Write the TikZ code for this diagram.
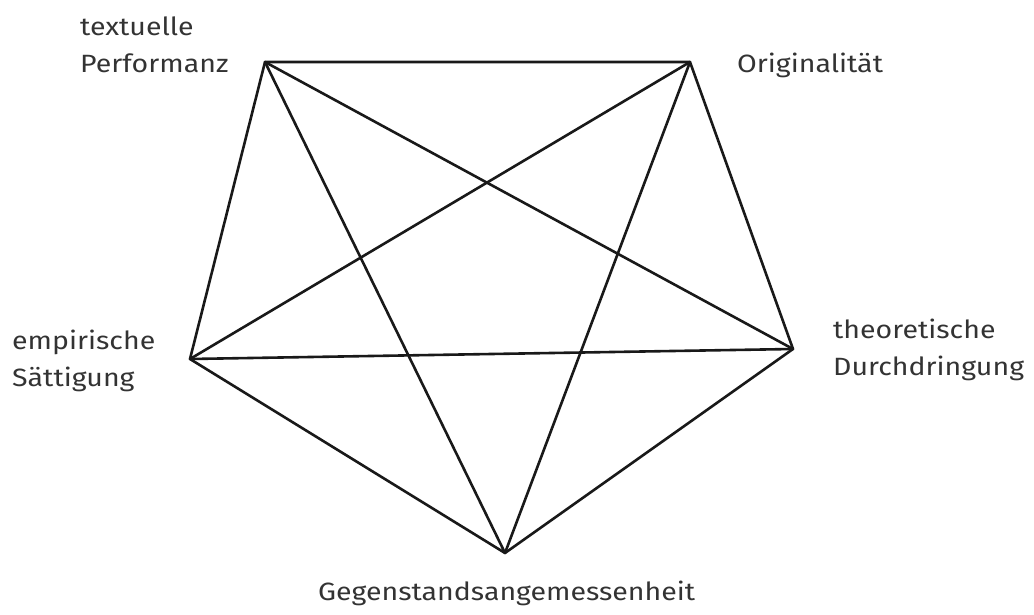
\documentclass[tikz,border=0pt]{standalone}
\usepackage{fontspec}
\setmainfont{Fira Sans}[FakeStretch=1.14]
\begin{document}
\begin{tikzpicture}[x=1pt,y=-1pt,
  edge/.style={line width=2.6pt, line join=round, line cap=round, draw=black!90},
  lbl/.style={anchor=base west, inner sep=0pt, font=\fontsize{25}{37}\selectfont, text=black!80, align=left}]
\useasboundingbox (0,0) rectangle (1034,615);
\coordinate (tp) at (265,62);
\coordinate (or) at (690,62);
\coordinate (th) at (793,349);
\coordinate (ge) at (505,553);
\coordinate (em) at (190,359);
\draw[edge] (tp) -- (or) -- (th) -- (ge) -- (em) -- cycle;
\draw[edge] (tp) -- (th);
\draw[edge] (tp) -- (ge);
\draw[edge] (or) -- (em);
\draw[edge] (or) -- (ge);
\draw[edge] (em) -- (th);
\node[lbl] (ltp) at (80,73) {textuelle\\Performanz};
\node[lbl] (lor) at (737,73) {Originalität};
\node[lbl] (lem) at (12,386) {empirische\\Sättigung};
\node[lbl] (lth) at (833,375) {theoretische\\Durchdringung};
\node[lbl] (lge) at (318,600) {Gegenstandsangemessenheit};
\end{tikzpicture}
\end{document}
